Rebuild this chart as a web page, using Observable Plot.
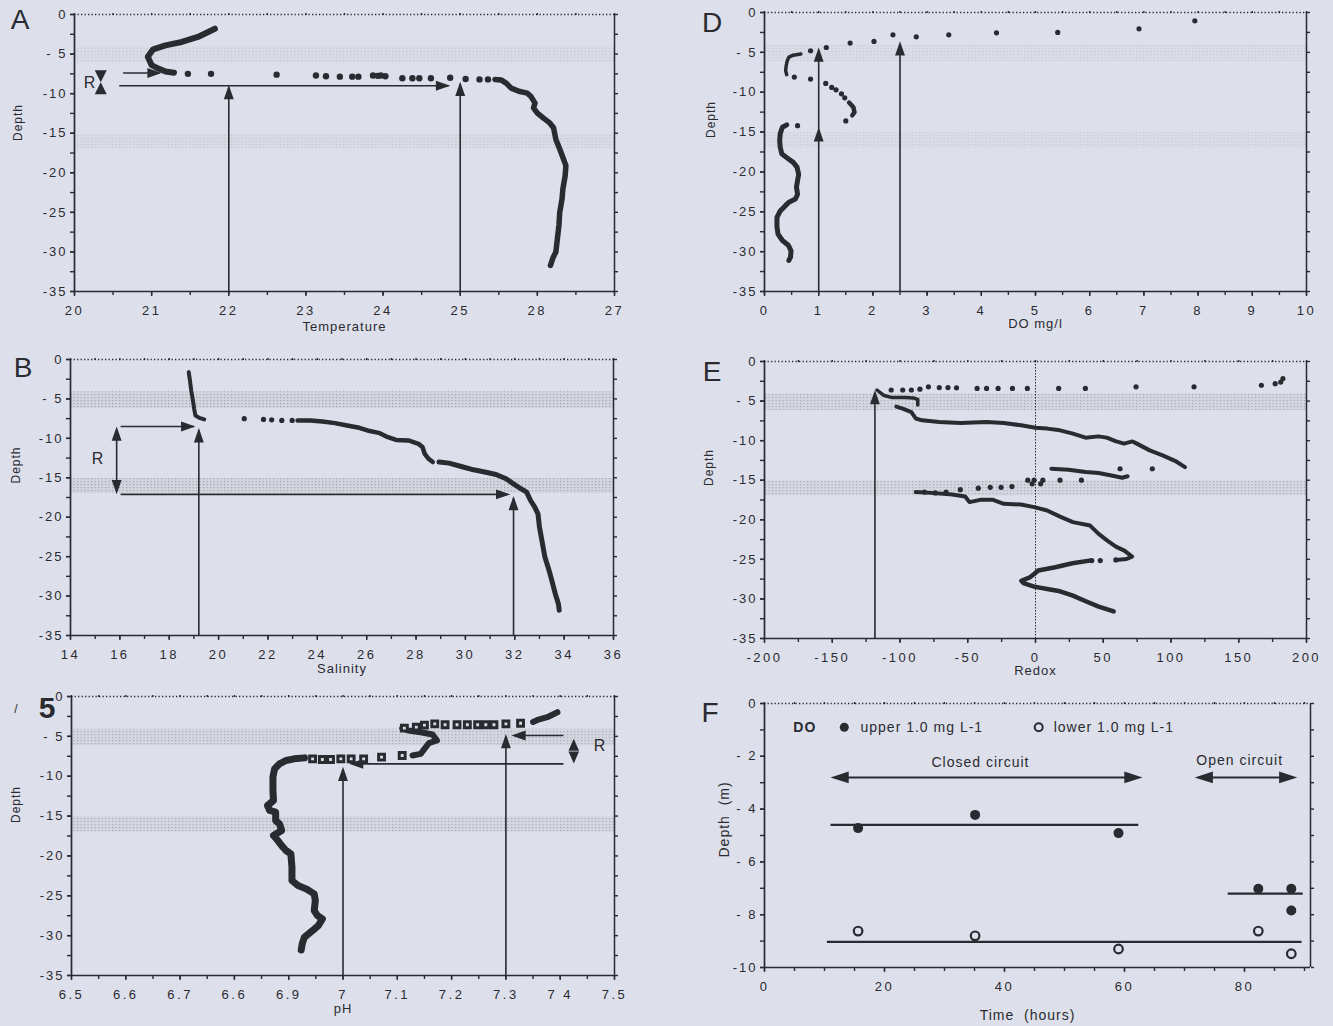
<!DOCTYPE html>
<html><head><meta charset="utf-8">
<script src="https://cdn.jsdelivr.net/npm/d3@7"></script>
<script src="https://cdn.jsdelivr.net/npm/@observablehq/plot@0.6"></script>
<style>
html,body{margin:0;padding:0;background:#dde0ea;}
#fig{position:relative;width:1333px;height:1026px;background:#dde0ea;overflow:hidden;}
.panel{position:absolute;}
.panel svg text{letter-spacing:1px;}
g[aria-label="x-axis tick label"] text{letter-spacing:2.5px;}
g[aria-label="y-axis tick label"] text{letter-spacing:2px;}
</style></head><body>
<svg width="0" height="0" style="position:absolute;left:0;top:0"><defs>
<pattern id="stip" width="3.5" height="3" patternUnits="userSpaceOnUse"><rect width="3.5" height="3" fill="#d2d4dd"/><rect x="0" y="0" width="1.2" height="1.2" fill="#9597a1"/></pattern>
</defs></svg>
<div id="fig"></div>
<script>
// ---------- DATA ----------
const bands = [[-4.1, -6.2], [-15.1, -17.0]];

// Panel A: temperature profile [temperature, depth]
const tempTicks = [20, 21, 22, 23, 24, 25, 26, 27];
const tempTickLabels = ["20", "21", "22", "23", "24", "25", "28", "27"];
const tempTop = [[21.82,-1.8],[21.6,-2.84],[21.39,-3.47],[21.18,-3.9],[21.02,-4.4],[20.95,-5.35],[21.0,-6.4],[21.08,-6.8],[21.18,-7.2],[21.29,-7.35]];
const tempDots = [[21.47,-7.5],[21.77,-7.5],[22.62,-7.6],[23.13,-7.7],[23.26,-7.8],[23.44,-7.85],[23.6,-7.85],[23.68,-7.85],[23.87,-7.7],[23.93,-7.75],[23.97,-7.7],[24.03,-7.8],[24.25,-8.06],[24.38,-8.06],[24.47,-8.06],[24.62,-8.06],[24.87,-8.0],[25.07,-8.15],[25.25,-8.2],[25.36,-8.2]];
const tempDeep = [[25.45,-8.2],[25.53,-8.27],[25.6,-8.7],[25.66,-9.3],[25.76,-9.7],[25.87,-9.94],[25.92,-10.4],[25.97,-11.2],[25.95,-11.8],[26.0,-12.45],[26.08,-13.1],[26.16,-13.7],[26.21,-14.3],[26.24,-15.8],[26.29,-17.0],[26.34,-18.3],[26.37,-19.1],[26.36,-20.4],[26.33,-22.1],[26.32,-23.3],[26.29,-25.0],[26.28,-26.6],[26.26,-28.3],[26.24,-30.0],[26.2,-30.8],[26.17,-31.7]];

// Panel B: salinity profile [salinity, depth]
const salTicks = [14, 16, 18, 20, 22, 24, 26, 28, 30, 32, 34, 36];
const salTop = [[18.79,-1.6],[18.84,-2.66],[18.89,-3.9],[18.96,-5.2],[19.01,-6.26],[19.06,-7.1],[19.22,-7.4],[19.42,-7.6]];
const salDots = [[21.04,-7.5],[21.82,-7.6],[22.15,-7.65],[22.56,-7.73],[22.98,-7.73]];
const salMid = [[23.2,-7.73],[23.72,-7.73],[24.21,-7.86],[24.71,-8.07],[25.21,-8.37],[25.7,-8.66],[26.03,-9.0],[26.53,-9.34],[26.86,-9.85],[27.19,-10.2],[27.69,-10.27],[28.1,-10.7],[28.26,-11.1],[28.35,-11.96],[28.51,-12.6],[28.68,-13.0]];
const salDeep = [[28.93,-13.0],[29.34,-13.14],[29.83,-13.57],[30.33,-13.99],[30.83,-14.29],[31.24,-14.58],[31.65,-15.13],[31.9,-15.68],[32.15,-16.19],[32.48,-16.82],[32.64,-17.88],[32.81,-18.72],[32.94,-19.57],[33.0,-21.26],[33.1,-22.95],[33.22,-25.06],[33.39,-26.75],[33.5,-28.0],[33.64,-29.7],[33.77,-31.0],[33.8,-31.8]];

// Panel C: pH profile [pH, depth]
const phTicks = [6.5, 6.6, 6.7, 6.8, 6.9, 7.0, 7.1, 7.2, 7.3, 7.4, 7.5];
const phTickLabels = ["6.5", "6.6", "6.7", "6.6", "6.9", "7", "7.1", "7.2", "7.3", "7 4", "7.5"];
const phTop = [[7.395,-1.97],[7.376,-2.6],[7.36,-2.9],[7.35,-3.2]];
const phSquares = [[7.327,-3.35],[7.30,-3.43],[7.278,-3.55],[7.263,-3.55],[7.248,-3.55],[7.229,-3.55],[7.21,-3.55],[7.188,-3.55],[7.169,-3.43],[7.15,-3.6],[7.135,-3.85],[7.113,-3.97],[7.109,-7.4],[7.071,-7.61],[7.038,-7.82],[7.015,-7.82],[6.996,-7.82],[6.977,-7.9],[6.962,-7.9],[6.944,-7.82]];
const phMid = [[7.109,-3.97],[7.12,-4.27],[7.143,-4.48],[7.165,-4.77],[7.173,-5.52],[7.158,-5.86],[7.15,-6.57],[7.143,-7.19],[7.128,-7.4]];
const phDeep = [[6.929,-7.7],[6.91,-7.82],[6.895,-8.03],[6.883,-8.45],[6.874,-9.08],[6.871,-10.1],[6.871,-11.8],[6.872,-13.05],[6.861,-13.68],[6.865,-14.3],[6.876,-14.5],[6.876,-15.56],[6.883,-15.98],[6.887,-16.8],[6.872,-17.44],[6.88,-18.07],[6.887,-18.7],[6.895,-19.32],[6.904,-19.74],[6.906,-21.4],[6.906,-23.1],[6.917,-23.7],[6.932,-24.13],[6.947,-24.76],[6.949,-25.6],[6.947,-26.85],[6.953,-27.48],[6.962,-27.9],[6.955,-28.7],[6.944,-29.36],[6.929,-30.2],[6.925,-31.0],[6.923,-31.8]];

// Panel D: dissolved oxygen profile [DO, depth]
const doTicks = [0, 1, 2, 3, 4, 5, 6, 7, 8, 9, 10];
const doDots = [[7.94,-1.04],[6.91,-2.05],[5.41,-2.5],[4.28,-2.55],[3.4,-2.8],[2.8,-3.05],[2.37,-2.8],[2.02,-3.63],[1.58,-3.84],[1.14,-4.39],[0.85,-4.8],[0.55,-8.1],[0.85,-8.35],[1.13,-8.9],[1.24,-9.4],[1.32,-9.7],[1.42,-10.2],[1.48,-10.7],[1.5,-13.6],[0.61,-14.2]];
const doUpper = [[0.67,-5.2],[0.53,-5.35],[0.45,-5.6],[0.42,-6.05],[0.4,-6.7],[0.39,-7.3],[0.41,-7.8]];
const doCurve = [[1.56,-11.3],[1.64,-11.9],[1.66,-12.5],[1.62,-12.9]];
const doDeep = [[0.41,-14.1],[0.33,-14.4],[0.29,-15.2],[0.28,-16.1],[0.29,-16.9],[0.32,-17.75],[0.37,-18.0],[0.45,-18.4],[0.53,-18.8],[0.6,-19.4],[0.63,-20.3],[0.61,-21.1],[0.59,-21.9],[0.61,-22.8],[0.57,-23.4],[0.45,-23.8],[0.39,-24.2],[0.29,-24.9],[0.23,-25.7],[0.23,-26.9],[0.25,-27.8],[0.33,-28.6],[0.44,-29.2],[0.49,-29.9],[0.48,-30.7],[0.45,-31.1]];

// Panel E: redox profile [redox, depth]
const redoxTicks = [-200, -150, -100, -50, 0, 50, 100, 150, 200];
const redoxDots = [[182.6,-2.15],[181,-2.6],[176.9,-2.8],[166.7,-3.0],[117,-3.2],[74.2,-3.2],[36.8,-3.4],[17.1,-3.4],[-6,-3.4],[-17,-3.4],[-27.6,-3.4],[-36.1,-3.4],[-43.1,-3.4],[-58.3,-3.33],[-64.6,-3.3],[-71,-3.3],[-79,-3.2],[-85.3,-3.5],[-91.6,-3.6],[-98,-3.6],[-106.5,-3.6],[62.4,-13.55],[86.2,-13.55],[18.1,-15.0],[33.9,-15.0],[-5.7,-15.0],[-2.5,-15.45],[3.8,-15.45],[-1,-15.0],[5.4,-15.0],[-17.4,-15.8],[-25.4,-15.9],[-33.4,-15.9],[-42.2,-16.0],[-55.5,-16.2],[-66,-16.5],[-74,-16.6],[-82,-16.5],[47.8,-25.16],[41.5,-25.16],[59.3,-25.07]];
const redoxA = [[-117,-3.6],[-112.2,-4.26],[-105.9,-4.56],[-96.4,-4.56],[-90.1,-4.6],[-86.9,-4.8],[-86.9,-5.5]];
const redoxB = [[-102.7,-5.7],[-98,-5.95],[-91.6,-6.4],[-88.4,-7.2],[-83.7,-7.43],[-71,-7.64],[-55.2,-7.77],[-36.1,-7.64],[-23.4,-7.77],[-10.7,-8.06],[0,-8.36],[8.6,-8.48],[18.1,-8.7],[27.6,-9.12],[36.9,-9.62],[46.3,-9.46],[52.6,-9.62],[59,-10.05],[65.3,-10.38],[71.6,-10.1],[74.8,-10.38],[84.3,-11.23],[93.8,-11.86],[103.3,-12.58],[110.3,-13.34]];
const redoxC = [[11.7,-13.55],[24.4,-13.68],[37.1,-13.97],[46.6,-14.1],[56,-14.4],[64,-14.69],[68,-14.5]];
const redoxD = [[-88.4,-16.5],[-77.2,-16.6],[-61.4,-16.8],[-51.9,-17.05],[-48.7,-17.77],[-40.8,-17.48],[-31.3,-17.48],[-23.4,-17.98],[-10.7,-18.07],[-1,-18.4],[8.6,-18.83],[18.1,-19.6],[27.6,-20.3],[40.3,-20.73],[46.6,-21.78],[53,-22.63],[59.3,-23.39],[65.6,-23.9],[71.3,-24.65],[67.2,-24.95],[59.3,-25.07]];
const redoxE = [[39.9,-25.16],[27.3,-25.5],[14.6,-26.0],[2,-26.4],[-1,-26.85],[-4.1,-27.27],[-10.5,-27.7],[-8.9,-28.0],[-1,-28.45],[8.6,-28.75],[18.1,-29.04],[27.6,-29.59],[37.1,-30.3],[46.6,-30.98],[57.7,-31.57]];

// Panel F: depth of 1.0 mg/L DO over time [hours, depth]
const timeTicks = [0, 20, 40, 60, 80];
const fUpper = [[15.6,-4.72],[35.1,-4.22],[59,-4.91],[82.3,-7.02],[87.8,-7.02],[87.8,-7.84]];
const fLower = [[15.6,-8.62],[35.1,-8.8],[59,-9.3],[82.3,-8.62],[87.8,-9.48]];
const fMeans = [{x1:11,x2:62.3,y:-4.6},{x1:77.2,x2:89.7,y:-7.2},{x1:10.4,x2:89.5,y:-9.03}];

// ---------- DRAWING ----------
const ink = "#2a2a31";
const font = "'Liberation Sans', Arial, Helvetica, sans-serif";

function headSymbol(dir, L = 2.6, W = 0.9) {
  return {draw(ctx, size) {
    const r = Math.sqrt(size / Math.PI), l = r * L, w = r * W;
    const pts = {up: [[0,0],[w,l],[-w,l]], down: [[0,0],[w,-l],[-w,-l]], right: [[0,0],[-l,w],[-l,-w]], left: [[0,0],[l,w],[l,-w]]}[dir];
    ctx.moveTo(pts[0][0], pts[0][1]); ctx.lineTo(pts[1][0], pts[1][1]); ctx.lineTo(pts[2][0], pts[2][1]); ctx.closePath();
  }};
}
function heads(list, r = 5.5, L = 2.6, W = 0.9) {
  return ["up","down","left","right"].map(dir =>
    Plot.dot(list.filter(h => h.dir === dir), {x: "x", y: "y", r, symbol: headSymbol(dir, L, W), fill: ink, stroke: "none"}));
}
function segs(list, opts = {}) {
  return Plot.link(list, {x1: "x1", y1: "y1", x2: "x2", y2: "y2", stroke: ink, strokeWidth: 1.6, ...opts});
}
function thick(data, w) {
  return Plot.line(data, {x: d => d[0], y: d => d[1], stroke: ink, strokeWidth: w, strokeLinecap: "round", strokeLinejoin: "round"});
}
function dots(data, r) {
  return Plot.dot(data, {x: d => d[0], y: d => d[1], r, fill: ink, stroke: "none"});
}
const labelOf = (ticks, labels) => d => labels[ticks.findIndex(v => Math.abs(v - d) < 1e-9)];
const depthFmt = d => d === 0 ? "0" : (Math.abs(d) < 10 ? "- " + Math.abs(d) : "-" + Math.abs(d));

function panel(c) {
  const bandMarks = c.band ? [Plot.rect(bands, {x1: () => c.xd[0], x2: () => c.xd[1], y1: d => d[0], y2: d => d[1], fill: "url(#stip)", fillOpacity: c.band})] : [];
  const chart = Plot.plot({
    width: c.w, height: c.h,
    marginTop: c.m[0], marginRight: c.m[1], marginBottom: c.m[2], marginLeft: c.m[3],
    x: {domain: c.xd}, y: {domain: c.yd},
    style: {background: "transparent", color: ink, fontFamily: font, fontSize: "13px", overflow: "visible"},
    marks: [
      ...bandMarks,
      ...c.marks,
      Plot.ruleY([c.yd[1]], {stroke: ink, strokeWidth: 1.6, strokeDasharray: "1.3,2.2"}),
      Plot.ruleY([c.yd[0]], {stroke: ink, strokeWidth: 1.7}),
      Plot.ruleX([c.xd[0]], {stroke: ink, strokeWidth: 1.7}),
      Plot.ruleX([c.xd[1]], {stroke: ink, strokeWidth: 1.5}),
      Plot.axisX(c.xMin, {anchor: "bottom", tickSize: 4, tickFormat: () => "", label: null, strokeWidth: 1.4}),
      Plot.axisX(c.xMaj, {anchor: "bottom", tickSize: 5, tickPadding: 9, tickFormat: c.xFmt, label: null, fontSize: 13, strokeWidth: 1.4}),
      Plot.axisX(c.xMin, {anchor: "top", tickSize: 2, tickFormat: () => "", label: null, strokeWidth: 1.4}),
      Plot.axisY(c.yMin, {anchor: "left", tickSize: 4, tickFormat: () => "", label: null, strokeWidth: 1.4}),
      Plot.axisY(c.yMaj, {anchor: "left", tickSize: 4, tickPadding: 3, tickFormat: depthFmt, label: null, fontSize: 13, strokeWidth: 1.4}),
      Plot.axisY(c.yMin, {anchor: "right", tickSize: 3, tickFormat: () => "", label: null, strokeWidth: 1.4}),
      Plot.text([c.xTitle], {text: d => d, frameAnchor: "bottom", dy: c.xTitleDy, dx: c.xTitleDx || 0, fontSize: c.xTitleSize || 13, lineAnchor: "middle"}),
      Plot.text([c.yTitle], {text: d => d, frameAnchor: "left", rotate: -90, dx: c.yTitleDx, dy: c.yTitleDy, fontSize: c.yTitleSize || 12, lineAnchor: "middle"}),
      ...c.letters.map(L => Plot.text([L.t], {text: d => d, frameAnchor: "top-left", dx: L.dx, dy: L.dy, fontSize: L.s, fontWeight: L.w || "normal", textAnchor: "middle", lineAnchor: "middle"}))
    ]
  });
  const div = document.createElement("div");
  div.className = "panel";
  div.style.left = c.left + "px";
  div.style.top = c.top + "px";
  div.appendChild(chart);
  document.getElementById("fig").appendChild(div);
}

const yMaj35 = d3.range(-35, 0.01, 5);
const yMin35 = d3.range(-35, 0.01, 2.5);

// Panel A
panel({
  left: 0, top: 0, w: 640, h: 340, m: [14, 26, 49, 74],
  xd: [20, 27], yd: [-35, 0], xMaj: tempTicks, xFmt: labelOf(tempTicks, tempTickLabels), xMin: d3.range(20, 27.01, 0.5),
  yMaj: yMaj35, yMin: yMin35, band: 0.35,
  xTitle: "Temperature", xTitleDy: 35, yTitle: "Depth", yTitleDx: -56, yTitleDy: -12,
  letters: [{t: "A", dx: -54, dy: 6, s: 28}],
  marks: [
    segs([{x1:20.63,y1:-7.4,x2:21.1,y2:-7.4},{x1:20.58,y1:-9.0,x2:24.85,y2:-9.0},{x1:22,y1:-35,x2:22,y2:-9.2},{x1:25,y1:-35,x2:25,y2:-8.8}]),
    heads([{x:21.13,y:-7.4,dir:"right"},{x:24.87,y:-9.0,dir:"right"},{x:22,y:-8.9,dir:"up"},{x:25,y:-8.5,dir:"up"}], 5.5),
    heads([{x:20.34,y:-8.55,dir:"down"},{x:20.34,y:-8.55,dir:"up"}], 5, 2.4, 1.2),
    Plot.text([{x:20.2,y:-8.7,t:"R"}], {x:"x", y:"y", text:"t", fontSize:16, textAnchor:"middle"}),
    thick(tempTop, 6), dots(tempDots, 3.2), thick(tempDeep, 5.5)
  ]
});

// Panel D
panel({
  left: 660, top: 0, w: 673, h: 340, m: [12, 27, 49, 104],
  xd: [0, 10], yd: [-35, 0], xMaj: doTicks, xFmt: d => String(d), xMin: d3.range(0, 10.01, 0.5),
  yMaj: yMaj35, yMin: yMin35, band: 0.3,
  xTitle: "DO mg/l", xTitleDy: 32, yTitle: "Depth", yTitleDx: -53, yTitleDy: -14,
  letters: [{t: "D", dx: -52, dy: 11, s: 28}],
  marks: [
    segs([{x1:1,y1:-35,x2:1,y2:-4.8},{x1:2.5,y1:-35,x2:2.5,y2:-4.0}]),
    heads([{x:1,y:-14.4,dir:"up"},{x:1,y:-4.4,dir:"up"},{x:2.5,y:-3.6,dir:"up"}], 5.5),
    dots(doDots, 2.6), thick(doUpper, 3.5), thick(doCurve, 4.5), thick(doDeep, 5)
  ]
});

// Panel B
panel({
  left: 0, top: 340, w: 640, h: 340, m: [19, 27, 45, 70],
  xd: [14, 36], yd: [-35, 0], xMaj: salTicks, xFmt: d => String(d), xMin: d3.range(14, 36.01, 1),
  yMaj: yMaj35, yMin: yMin35, band: 0.85,
  xTitle: "Salinity", xTitleDy: 33, yTitle: "Depth", yTitleDx: -54, yTitleDy: -14,
  letters: [{t: "B", dx: -47, dy: 9, s: 28}],
  marks: [
    segs([{x1:16.03,y1:-8.5,x2:19.0,y2:-8.5},{x1:19.2,y1:-35,x2:19.2,y2:-9.0},{x1:15.87,y1:-9.0,x2:15.87,y2:-16.6},{x1:16.03,y1:-17.1,x2:31.7,y2:-17.1},{x1:31.95,y1:-35,x2:31.95,y2:-17.6}]),
    heads([{x:19.06,y:-8.5,dir:"right"},{x:19.2,y:-8.7,dir:"up"},{x:15.87,y:-8.5,dir:"up"},{x:15.87,y:-17.1,dir:"down"},{x:31.82,y:-17.1,dir:"right"},{x:31.95,y:-17.3,dir:"up"}], 5.5),
    Plot.text([{x:15.12,y:-12.6,t:"R"}], {x:"x", y:"y", text:"t", fontSize:16, textAnchor:"middle"}),
    thick(salTop, 4), dots(salDots, 2.6), thick(salMid, 4.5), thick(salDeep, 5)
  ]
});

// Panel E
panel({
  left: 660, top: 340, w: 673, h: 340, m: [21, 27, 42, 104],
  xd: [-200, 200], yd: [-35, 0], xMaj: redoxTicks, xFmt: d => String(d), xMin: d3.range(-200, 200.01, 25),
  yMaj: yMaj35, yMin: yMin35, band: 0.75,
  xTitle: "Redox", xTitleDy: 32, yTitle: "Depth", yTitleDx: -55, yTitleDy: -14,
  letters: [{t: "E", dx: -52, dy: 11, s: 28}],
  marks: [
    Plot.ruleX([0], {stroke: ink, strokeWidth: 1, strokeDasharray: "1.5,1.5"}),
    segs([{x1:-118.5,y1:-35,x2:-118.5,y2:-4.0}]),
    heads([{x:-118.5,y:-3.6,dir:"up"}], 5.5),
    dots(redoxDots, 2.6), thick(redoxA, 3.5), thick(redoxB, 4), thick(redoxC, 4), thick(redoxD, 4), thick(redoxE, 4.5)
  ]
});

// Panel C (pH)
panel({
  left: 0, top: 680, w: 640, h: 346, m: [16, 26, 51, 71],
  xd: [6.5, 7.5], yd: [-35, 0], xMaj: phTicks, xFmt: labelOf(phTicks, phTickLabels), xMin: d3.range(6.5, 7.501, 0.05),
  yMaj: yMaj35, yMin: yMin35, band: 0.75,
  xTitle: "pH", xTitleDy: 33, yTitle: "Depth", yTitleDx: -55, yTitleDy: -13,
  letters: [{t: "5", dx: -24, dy: 12, s: 30, w: "bold"}, {t: "/", dx: -55, dy: 13, s: 12}],
  marks: [
    segs([{x1:7.406,y1:-8.45,x2:7.03,y2:-8.45},{x1:7.406,y1:-4.9,x2:7.33,y2:-4.9},{x1:7.0,y1:-35,x2:7.0,y2:-9.2},{x1:7.3,y1:-35,x2:7.3,y2:-5.1}]),
    heads([{x:7.011,y:-8.45,dir:"left"},{x:7.31,y:-4.9,dir:"left"},{x:7.0,y:-8.8,dir:"up"},{x:7.3,y:-4.7,dir:"up"}], 5.5),
    heads([{x:7.425,y:-5.3,dir:"up"},{x:7.425,y:-8.4,dir:"down"}], 4.8, 2.5, 1.1),
    Plot.text([{x:7.462,y:-6.15,t:"R"}], {x:"x", y:"y", text:"t", fontSize:16, textAnchor:"start"}),
    thick(phTop, 6), thick(phMid, 6), thick(phDeep, 7),
    Plot.dot(phSquares, {x: d => d[0], y: d => d[1], r: 3.3, symbol: "square", fill: "#dadce4", stroke: ink, strokeWidth: 3})
  ]
});

// Panel F
panel({
  left: 660, top: 680, w: 673, h: 346, m: [23, 23, 59, 104],
  xd: [0, 91], yd: [-10, 0], xMaj: timeTicks, xFmt: d => String(d), xMin: d3.range(0, 91, 5),
  yMaj: d3.range(-10, 0.01, 2), yMin: d3.range(-10, 0.01, 1), band: 0,
  xTitle: "Time  (hours)", xTitleDy: 48, xTitleDx: -10, xTitleSize: 14,
  yTitle: "Depth  (m)", yTitleDx: -40, yTitleDy: 22, yTitleSize: 14,
  letters: [{t: "F", dx: -54, dy: 10, s: 28}],
  marks: [
    Plot.text([{x:4.8,y:-0.9,t:"DO"}], {x:"x", y:"y", text:"t", fontSize:14, fontWeight:"bold", textAnchor:"start"}),
    Plot.dot([{x:13.3,y:-0.9}], {x:"x", y:"y", r:4.5, fill: ink}),
    Plot.text([{x:16,y:-0.9,t:"upper 1.0 mg L-1"}], {x:"x", y:"y", text:"t", fontSize:14, textAnchor:"start"}),
    Plot.dot([{x:45.7,y:-0.9}], {x:"x", y:"y", r:4, fill:"none", stroke: ink, strokeWidth: 2}),
    Plot.text([{x:48.2,y:-0.9,t:"lower 1.0 mg L-1"}], {x:"x", y:"y", text:"t", fontSize:14, textAnchor:"start"}),
    Plot.text([{x:36,y:-2.23,t:"Closed circuit"}], {x:"x", y:"y", text:"t", fontSize:14, textAnchor:"middle"}),
    Plot.text([{x:79.2,y:-2.16,t:"Open circuit"}], {x:"x", y:"y", text:"t", fontSize:14, textAnchor:"middle"}),
    segs([{x1:13,y1:-2.8,x2:61,y2:-2.8},{x1:73.7,y1:-2.8,x2:86.8,y2:-2.8}], {strokeWidth: 2}),
    heads([{x:11,y:-2.8,dir:"left"},{x:63,y:-2.8,dir:"right"},{x:71.7,y:-2.8,dir:"left"},{x:88.8,y:-2.8,dir:"right"}], 6.5, 2.8, 0.9),
    Plot.link(fMeans, {x1: "x1", x2: "x2", y1: "y", y2: "y", stroke: ink, strokeWidth: 2.2}),
    Plot.dot(fUpper, {x: d => d[0], y: d => d[1], r: 5, fill: ink}),
    Plot.dot(fLower, {x: d => d[0], y: d => d[1], r: 4.3, fill: "none", stroke: ink, strokeWidth: 2.2})
  ]
});
</script></body></html>
